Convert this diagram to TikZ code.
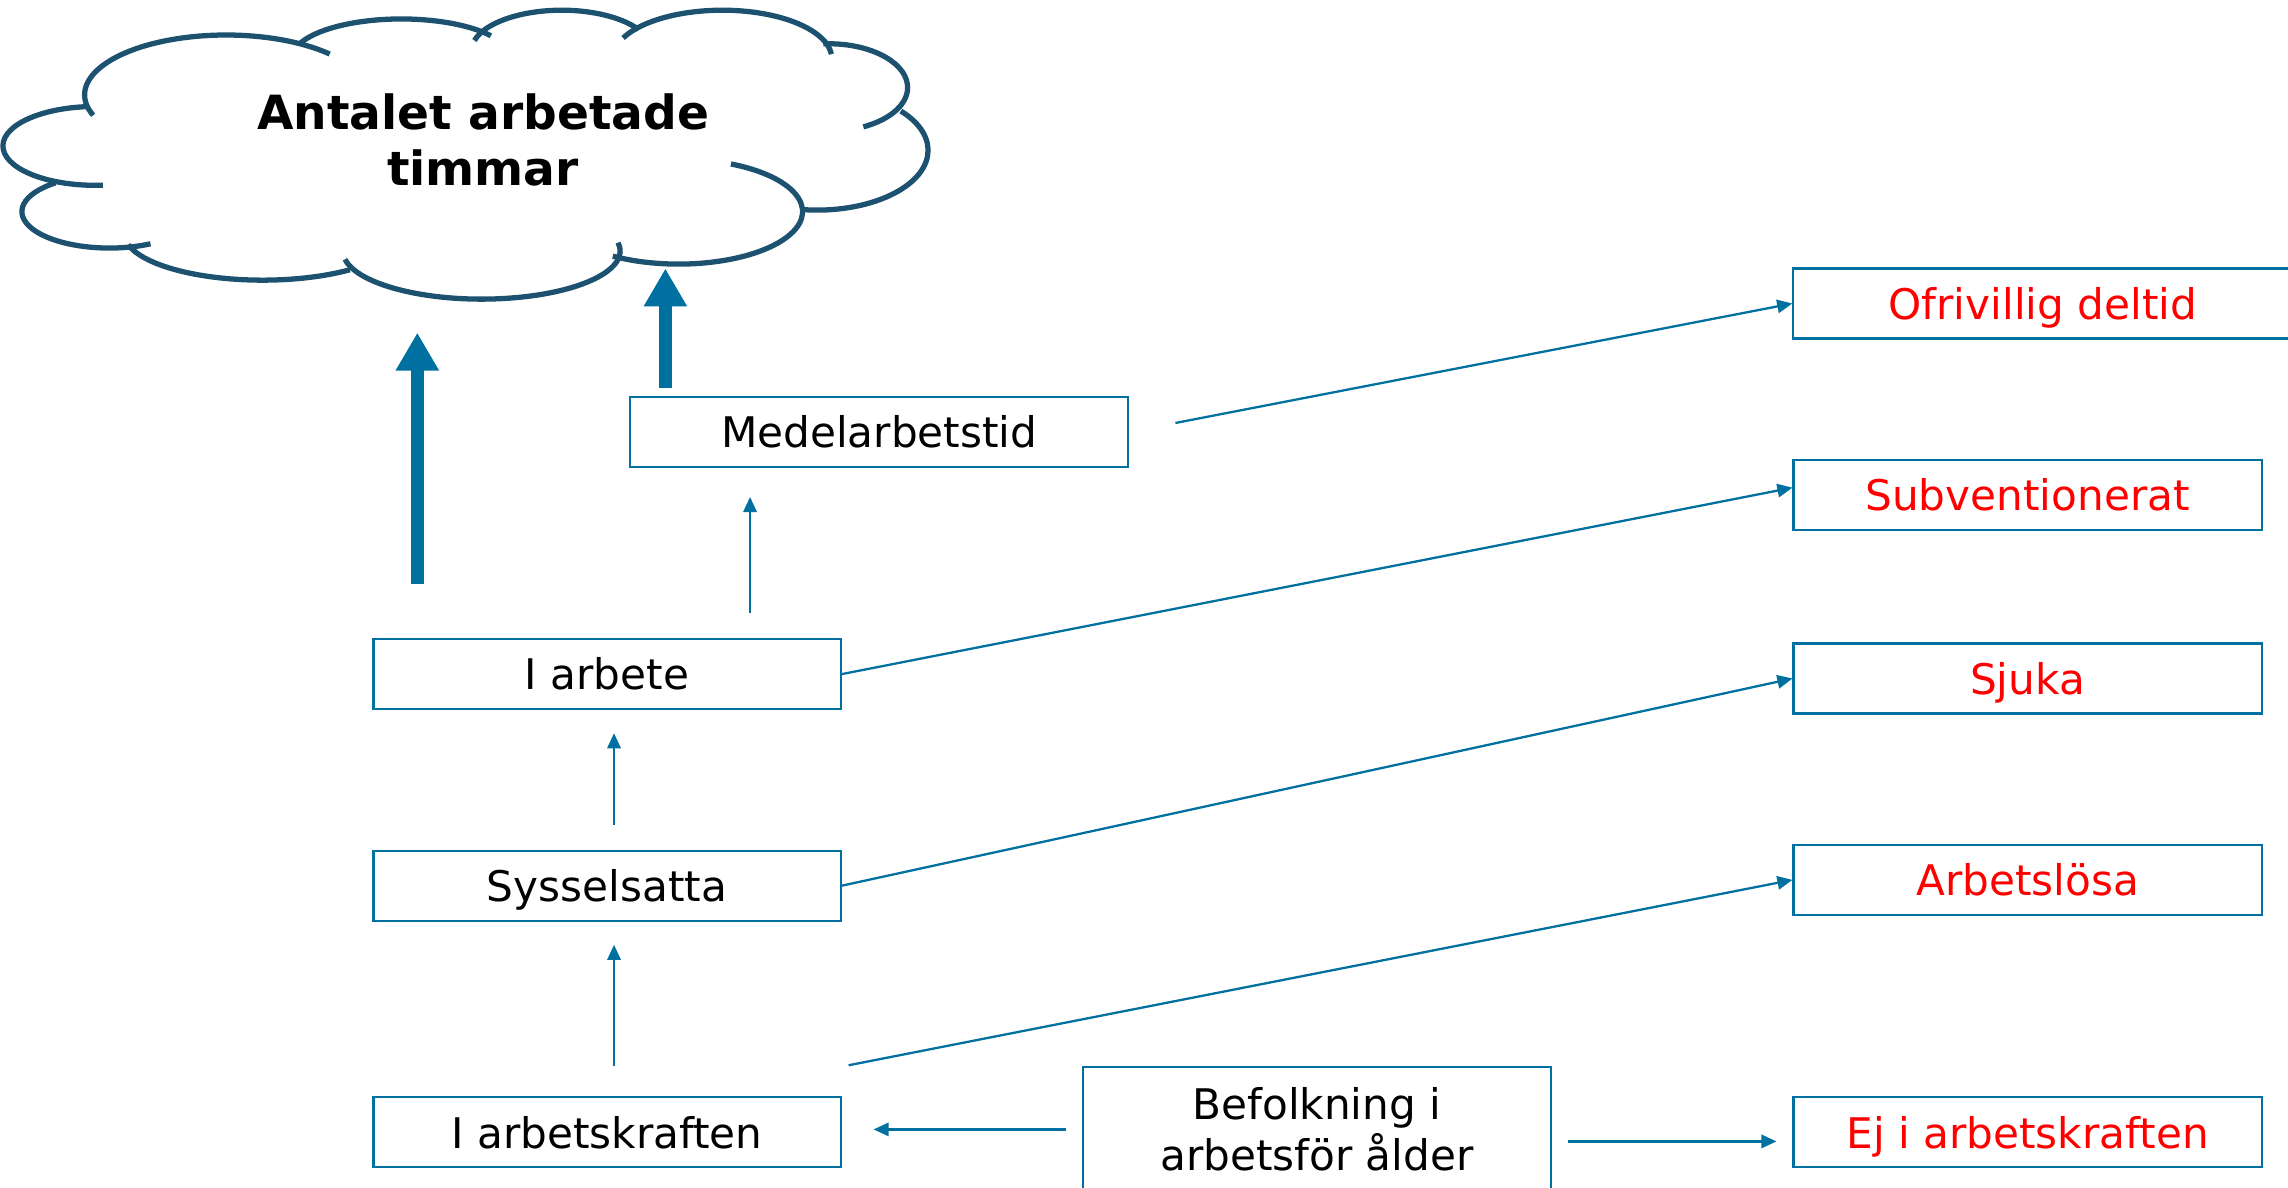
\documentclass[tikz,border=0pt]{standalone}
\usepackage{fontspec}
\setmainfont{DejaVu Sans}
\usetikzlibrary{arrows.meta}
\definecolor{boxblue}{RGB}{0,112,160}
\definecolor{cloudblue}{RGB}{28,82,112}
\definecolor{outred}{RGB}{255,0,0}
\tikzset{
  plainbox/.style={draw=boxblue, line width=0.6pt, minimum width=46.7mm, minimum height=7mm, inner sep=0pt, font=\fontsize{12}{14.5}\selectfont},
  box/.style={plainbox, text height=10pt, text depth=1pt},
  outbox/.style={box, text=outred, minimum width=46.8mm},
  flow/.style={draw=boxblue, line width=0.65pt, -{Triangle[length=4.3pt,width=3.8pt]}},
  bigflow/.style={draw=boxblue, line width=3.7pt, -{Triangle[length=10.8pt,width=11.6pt]}},
  cloudline/.style={draw=cloudblue, line width=1.5pt}
}
\begin{document}
\begin{tikzpicture}[x=0.1459mm, y=-0.1459mm]
\useasboundingbox (0,0) rectangle (1568,814);
\clip (0,0) rectangle (1568,814);
% cloud
\draw[cloudline] (155,65) ++(160:97 and 41) arc[start angle=160, end angle=317, x radius=97, y radius=41];
\draw[cloudline] (275,40) ++(202:75 and 27) arc[start angle=202, end angle=325, x radius=75, y radius=27];
\draw[cloudline] (385,35) ++(195:62 and 28) arc[start angle=195, end angle=328, x radius=62, y radius=28];
\draw[cloudline] (495,40) ++(205:75 and 33) arc[start angle=205, end angle=355, x radius=75, y radius=33];
\draw[cloudline] (568,60) ++(266:54 and 30) arc[start angle=266, end angle=424, x radius=54, y radius=30];
\draw[cloudline] (560,103) ++(-41:76 and 41) arc[start angle=-41, end angle=97, x radius=76, y radius=41];
\draw[cloudline] (465,145) ++(-65:85 and 36) arc[start angle=-65, end angle=122, x radius=85, y radius=36];
\draw[cloudline] (330,172) ++(-10:95 and 33) arc[start angle=-10, end angle=170, x radius=95, y radius=33];
\draw[cloudline] (180,160) ++(51:95 and 32) arc[start angle=51, end angle=166, x radius=95, y radius=32];
\draw[cloudline] (75,145) ++(62:60 and 25) arc[start angle=62, end angle=232, x radius=60, y radius=25];
\draw[cloudline] (65,100) ++(85:63 and 27) arc[start angle=85, end angle=265, x radius=63, y radius=27];
\node[font=\fontsize{13.4}{15.8}\selectfont\bfseries, align=center] (hours) at (331,96) {Antalet arbetade\\timmar};

\node[box, minimum width=49.8mm] (medel) at (602.5,296) {Medelarbetstid};
\node[box] (iarbete) at (416,462) {I arbete};
\node[box] (syssel) at (416,607) {Sysselsatta};
\node[box] (ikraft) at (416,776) {I arbetskraften};
\node[plainbox, minimum width=46.8mm, minimum height=12.5mm, align=center] (befolk) at (902.5,774) {Befolkning i\\arbetsför ålder};
\node[outbox, minimum width=49.9mm] (ofri) at (1400,208) {Ofrivillig deltid};
\node[outbox] (subv) at (1389.5,339) {Subventionerat};
\node[outbox] (sjuka) at (1389.5,465) {Sjuka};
\node[outbox] (arblos) at (1389.5,603) {Arbetslösa};
\node[outbox] (ej) at (1389.5,776) {Ej i arbetskraften};

\coordinate (big1) at (286,400);
\coordinate (big1tip) at (286,228);
\coordinate (big2) at (456,266);
\coordinate (big2tip) at (456,184);
\draw[bigflow] (big1) -- (big1tip);
\draw[bigflow] (big2) -- (big2tip);

\draw[flow, shorten <=3mm, shorten >=2.3mm] ([xshift=0.7mm]ikraft.north) -- ([xshift=0.7mm]syssel.south);
\draw[flow, shorten <=2.5mm, shorten >=2.3mm] ([xshift=0.7mm]syssel.north) -- ([xshift=0.7mm]iarbete.south);
\draw[flow, shorten <=2.5mm, shorten >=2.9mm] ([xshift=14.3mm]iarbete.north) -- ([xshift=14.3mm]iarbete.north |- medel.south);
\draw[flow, shorten <=4.7mm] (medel.east) -- (ofri.west);
\draw[flow] (iarbete.east) -- ([yshift=0.7mm]subv.west);
\draw[flow] (syssel.east) -- (sjuka.west);
\draw[flow] ([shift={(0.7mm,3.1mm)}]ikraft.north east) -- (arblos.west);
\draw[flow, shorten <=1.6mm, shorten >=3.2mm] (befolk.west) -- (befolk.west -| ikraft.east);
\draw[flow, shorten <=1.6mm, shorten >=1.6mm] ([yshift=-1.2mm]befolk.east) -- ([yshift=-1.2mm]befolk.east -| ej.west);
\end{tikzpicture}
\end{document}
